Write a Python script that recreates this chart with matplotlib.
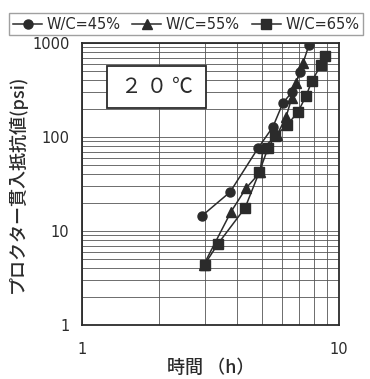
"""Proctor penetration resistance vs elapsed time at 20 C."""

import matplotlib

matplotlib.use("Agg")
from matplotlib import pyplot as plt
from matplotlib.patches import Rectangle
from matplotlib.ticker import FixedLocator, LogLocator, NullFormatter

plt.rcParams["font.family"] = ["DejaVu Sans", "Noto Sans CJK JP"]

# W/C = 45 %
time_45 = [2.93, 3.77, 4.84, 5.53, 6.05, 6.56, 7.05, 7.64]
resist_45 = [14.5, 26, 76, 128, 230, 300, 490, 950]

# W/C = 55 %
time_55 = [2.98, 3.8, 4.35, 4.93, 5.06, 5.74, 6.22, 6.55, 6.8, 7.25]
resist_55 = [4.4, 16, 28.6, 42, 76, 105, 163, 260, 375, 612]

# W/C = 65 %
time_65 = [3.0, 3.38, 4.31, 4.89, 5.29, 5.63, 6.28, 6.92, 7.44, 7.85, 8.5, 8.83]
resist_65 = [4.4, 7.3, 17.6, 42, 76, 102, 134, 184, 273, 394, 583, 730]

series = [
    ("W/C=45%", time_45, resist_45, "o"),
    ("W/C=55%", time_55, resist_55, "^"),
    ("W/C=65%", time_65, resist_65, "s"),
]

ink = "#2b2b2b"
cjk = ["Noto Sans CJK JP", "DejaVu Sans"]

fig = plt.figure(figsize=(3.7, 3.79), dpi=100)
ax = fig.add_axes([0.2216, 0.1425, 0.6946, 0.744])

for label, xs, ys, marker in series:
    ax.plot(xs, ys, color=ink, linewidth=1.1, marker=marker, markersize=6.5,
            markerfacecolor=ink, markeredgecolor=ink, label=label, zorder=3)

ax.set_xscale("log")
ax.set_yscale("log")
ax.set_xlim(1, 10)
ax.set_ylim(1, 1000)

ax.xaxis.set_major_locator(FixedLocator([1, 10]))
ax.xaxis.set_minor_locator(LogLocator(base=10, subs=range(2, 10)))
ax.xaxis.set_minor_formatter(NullFormatter())
ax.yaxis.set_major_locator(FixedLocator([1, 10, 100, 1000]))
ax.yaxis.set_minor_locator(LogLocator(base=10, subs=range(2, 10)))
ax.yaxis.set_minor_formatter(NullFormatter())
ax.set_xticklabels(["1", "10"])
ax.set_yticklabels(["1", "10", "100", "1000"])

ax.grid(True, which="both", color="#555555", linewidth=0.6)
ax.tick_params(which="both", length=0, labelsize=10.5, colors=ink)
ax.tick_params(axis="x", pad=12)
ax.tick_params(axis="y", pad=9)
for spine in ax.spines.values():
    spine.set_color(ink)
    spine.set_linewidth(1.3)

ax.set_xlabel("時間 （h）", fontsize=13, color=ink, labelpad=2, family=cjk,
              fontweight="medium")
ax.set_ylabel("プロクター貫入抵抗値(psi)", fontsize=13, color=ink, labelpad=4,
              family=cjk, fontweight="medium")

# temperature label box
ax.add_patch(Rectangle((0.097, 0.77), 0.385, 0.148, transform=ax.transAxes,
                       facecolor="white", edgecolor=ink, linewidth=1.3, zorder=4))
ax.text(0.29, 0.844, "２ ０ ℃", transform=ax.transAxes, fontsize=15, color=ink,
        family=cjk, va="center", ha="center", zorder=5)

fig.legend(loc="upper right", bbox_to_anchor=(1.0, 0.985), ncol=3,
           fontsize=10.5, frameon=True, fancybox=False, edgecolor="#888888",
           handlelength=2.0, handletextpad=0.3, columnspacing=0.8,
           borderpad=0.25, labelcolor=ink)

fig.savefig("out.png", dpi=100)
